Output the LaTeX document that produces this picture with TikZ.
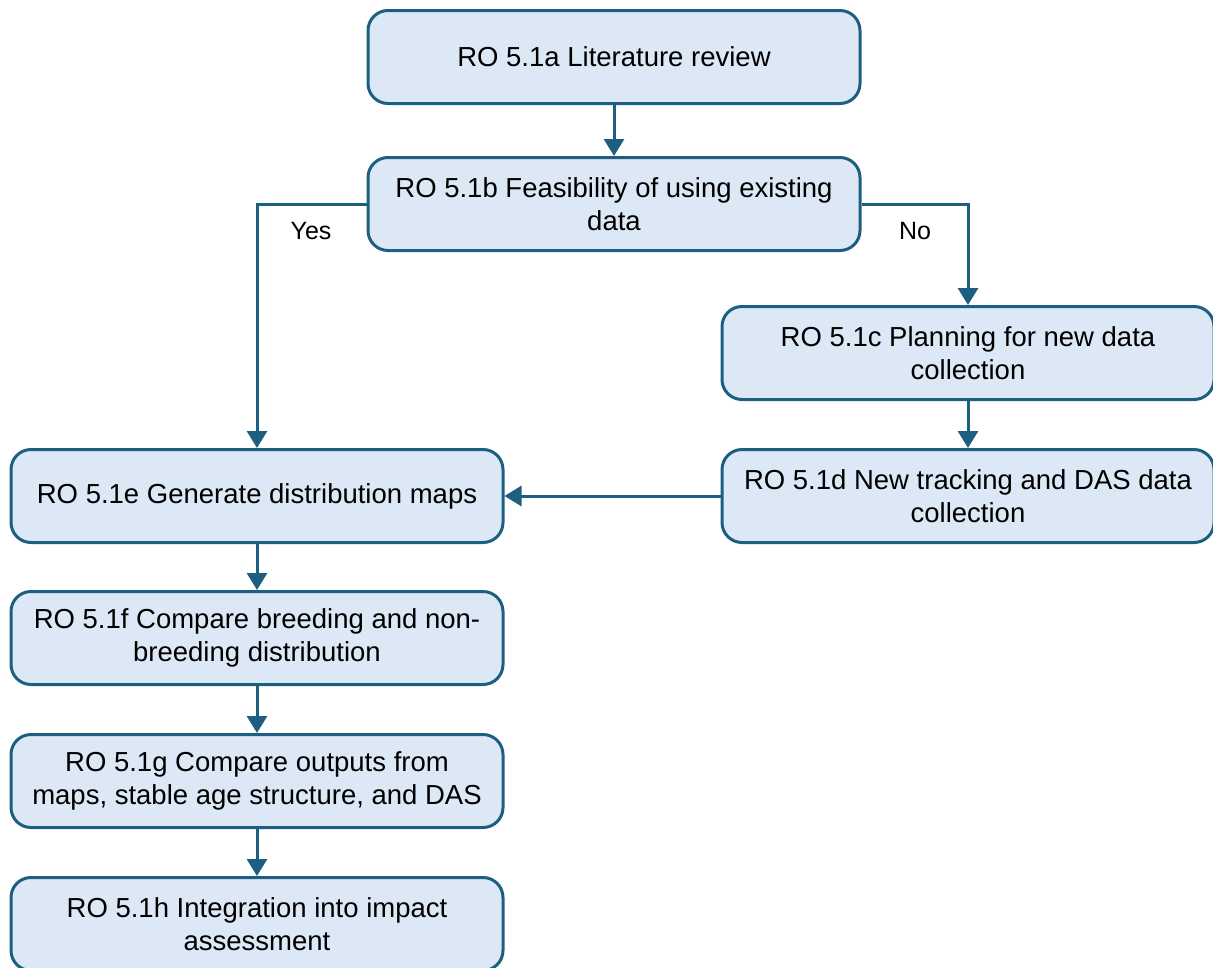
\documentclass[tikz,border=0pt]{standalone}
\usepackage{fontspec}
\setmainfont{Liberation Sans}
\usetikzlibrary{arrows.meta}
\definecolor{boxfill}{HTML}{DCE8F5}
\definecolor{boxline}{HTML}{1D5F80}
\begin{document}
\begin{tikzpicture}[x=1pt,y=-1pt,
  stepbox/.style={draw=boxline, fill=boxfill, line width=3pt, rounded corners=20pt,
    minimum width=492pt, minimum height=93pt, align=center, inner sep=0pt,
    font=\fontsize{27.5}{32.5}\selectfont},
  conn/.style={draw=boxline, line width=3pt, -{Triangle[width=20pt,length=17pt]}},
  lbl/.style={font=\fontsize{25}{30}\selectfont}]
\useasboundingbox (0,0) rectangle (1213,967);
\node[stepbox] (a) at (614,57) {RO 5.1a Literature review};
\node[stepbox] (b) at (614,204) {RO 5.1b Feasibility of using existing\\data};
\node[stepbox] (c) at (968,353) {RO 5.1c Planning for new data\\collection};
\node[stepbox] (d) at (968,496) {RO 5.1d New tracking and DAS data\\collection};
\node[stepbox] (e) at (257,496) {RO 5.1e Generate distribution maps};
\node[stepbox] (f) at (257,638) {RO 5.1f Compare breeding and non-\\breeding distribution};
\node[stepbox] (g) at (257,781) {RO 5.1g Compare outputs from\\maps, stable age structure, and DAS};
\node[stepbox] (h) at (257,924) {RO 5.1h Integration into impact\\assessment};
\draw[conn] (a) -- (b);
\draw[conn] (b.west) -| (e.north);
\draw[conn] (b.east) -| (c.north);
\draw[conn] (c) -- (d);
\draw[conn] (d) -- (e);
\draw[conn] (e) -- (f);
\draw[conn] (f) -- (g);
\draw[conn] (g) -- (h);
\node[lbl] (yes) at (311,231) {Yes};
\node[lbl] (no) at (915,231) {No};
\end{tikzpicture}
\end{document}
